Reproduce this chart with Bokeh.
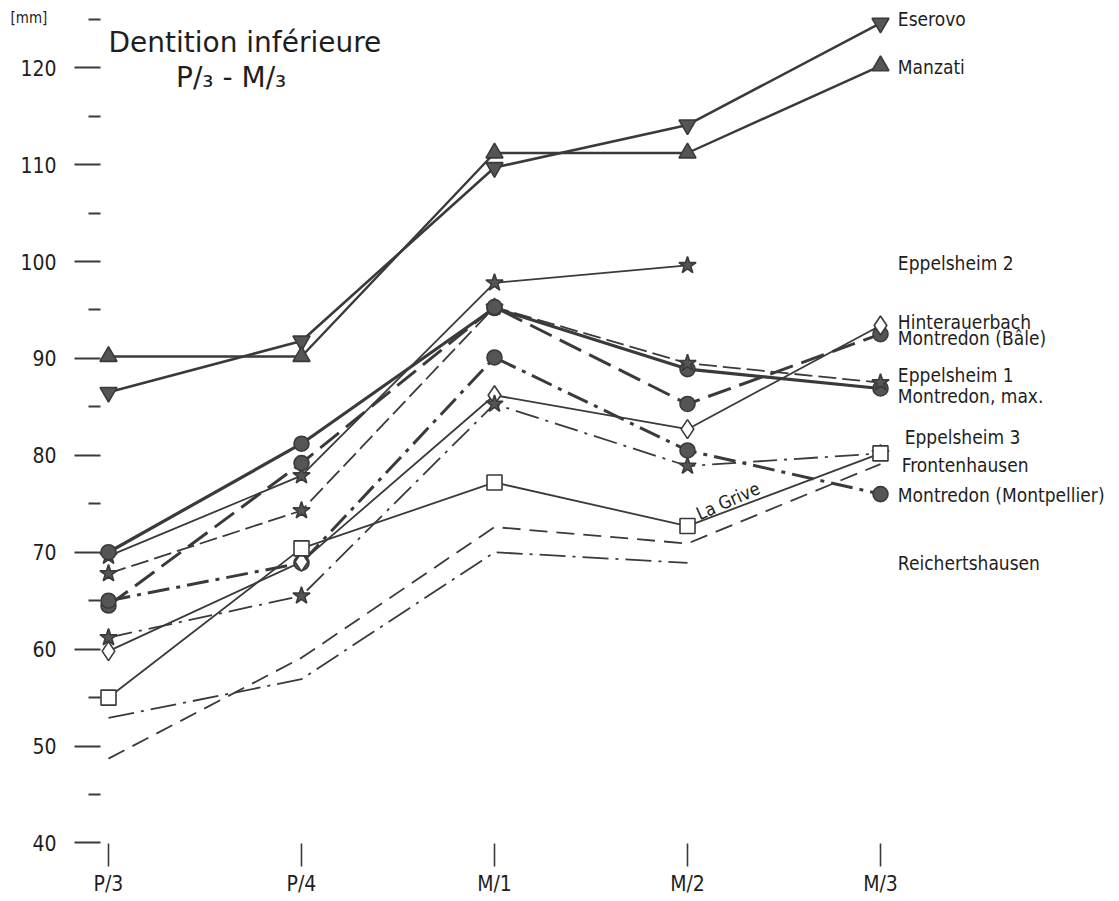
from bokeh.plotting import figure
from bokeh.models import Range1d, LinearAxis, FixedTicker, Label, ColumnDataSource
from bokeh.embed import file_html
from bokeh.resources import INLINE

NaN = float("nan")

# ---- data -------------------------------------------------------------
teeth = ["P/3", "P/4", "M/1", "M/2", "M/3"]
y_major = [40, 50, 60, 70, 80, 90, 100, 110, 120]
y_minor = [45, 55, 65, 75, 85, 95, 105, 115, 125]

eserovo = [86.5, 91.8, 109.7, 114.1, 124.6]
manzati = [90.2, 90.2, 111.2, 111.2, 120.2]
eppelsheim_2 = [69.6, 77.9, 97.8, 99.6, NaN]
montredon_max = [70.0, 81.2, 95.2, 88.9, 86.9]
eppelsheim_1 = [67.8, 74.3, 95.3, 89.5, 87.5]
montredon_bale = [64.5, 79.2, 95.3, 85.3, 92.5]
montredon_montpellier = [65.0, 68.9, 90.1, 80.5, 76.0]
hinterauerbach = [59.8, 69.0, 86.2, 82.7, 93.4]
eppelsheim_3 = [61.2, 65.5, 85.3, 78.9, 80.2]
la_grive = [55.0, 70.4, 77.2, 72.7, 80.2]
frontenhausen = [48.7, 59.1, 72.6, 70.9, 79.1]
reichertshausen = [52.9, 56.9, 70.0, 68.9, NaN]

series_names = ["Eserovo", "Manzati", "Eppelsheim 2", "Montredon, max.", "Eppelsheim 1",
                "Montredon (Bâle)", "Montredon (Montpellier)", "Hinterauerbach",
                "Eppelsheim 3", "La Grive", "Frontenhausen", "Reichertshausen"]
series_values = [eserovo, manzati, eppelsheim_2, montredon_max, eppelsheim_1,
                 montredon_bale, montredon_montpellier, hinterauerbach,
                 eppelsheim_3, la_grive, frontenhausen, reichertshausen]

# ---- styles -----------------------------------------------------------
INK = "#3a3a3a"
TXT = "#1e1e1e"
FILL = "#555555"
FONT = "DejaVu Sans Condensed"
styles = {
    "Eserovo": dict(marker="inverted_triangle", fill=FILL, lw=2.6, dash="solid", size=17),
    "Manzati": dict(marker="triangle", fill=FILL, lw=2.4, dash="solid", size=17),
    "Eppelsheim 2": dict(marker="star", fill=FILL, lw=1.8, dash="solid", size=18),
    "Montredon, max.": dict(marker="circle", fill=FILL, lw=3.2, dash="solid", size=15),
    "Eppelsheim 1": dict(marker="star", fill=FILL, lw=1.8, dash="18 6", size=18),
    "Montredon (Bâle)": dict(marker="circle", fill=FILL, lw=3.0, dash="24 9", size=15),
    "Montredon (Montpellier)": dict(marker="circle", fill=FILL, lw=3.0, dash="22 7 4 7", size=15),
    "Hinterauerbach": dict(marker="diamond", fill="white", lw=1.8, dash="solid", size=19),
    "Eppelsheim 3": dict(marker="star", fill=FILL, lw=1.8, dash="24 7 3 7", size=18),
    "La Grive": dict(marker="square", fill="white", lw=1.8, dash="solid", size=15),
    "Frontenhausen": dict(marker=None, fill=None, lw=1.8, dash="18 9", size=0),
    "Reichertshausen": dict(marker=None, fill=None, lw=1.8, dash="26 7 3 7", size=0),
}

# label placement (right column)
label_names = ["Eserovo", "Manzati", "Eppelsheim  2", "Hinterauerbach", "Montredon (Bâle)",
               "Eppelsheim  1", "Montredon, max.", "Eppelsheim 3", "Frontenhausen",
               "Montredon (Montpellier)", "Reichertshausen"]
label_y = [125.0, 120.1, 99.8, 93.8, 92.1, 88.3, 86.1, 81.9, 79.0, 75.9, 68.9]
label_x = [4.09, 4.09, 4.09, 4.09, 4.09, 4.09, 4.09, 4.125, 4.11, 4.09, 4.09]

# ---- figure -----------------------------------------------------------
PX = 193.0          # px per category step
PY = 9.69           # px per mm
W, H = 1112, 900
y_top = 125.7 + 12 / PY
y_bot = y_top - H / PY
p = figure(width=W, height=H,
           x_range=Range1d(-108 / PX, -108 / PX + W / PX), y_range=Range1d(y_bot, y_top),
           output_backend="svg", toolbar_location=None, x_axis_type=None, y_axis_type=None,
           min_border_left=0, min_border_right=0, min_border_top=0, min_border_bottom=0)
p.outline_line_color = None
p.background_fill_color = "white"

yaxis = LinearAxis(ticker=FixedTicker(ticks=y_major, minor_ticks=y_minor),
                   fixed_location=-8 / PX,
                   axis_line_color=None, major_tick_out=26, major_tick_in=0,
                   minor_tick_out=12, minor_tick_in=0,
                   major_tick_line_color=INK, minor_tick_line_color=INK,
                   major_tick_line_width=2, minor_tick_line_width=2,
                   major_label_text_font=FONT, major_label_text_font_size="21px",
                   major_label_text_color=TXT, major_label_standoff=18)
p.add_layout(yaxis, "left")

xaxis = LinearAxis(ticker=FixedTicker(ticks=list(range(len(teeth))), minor_ticks=[]),
                   fixed_location=39.9,
                   major_label_overrides={i: t for i, t in enumerate(teeth)},
                   axis_line_color=None, major_tick_out=23, major_tick_in=0,
                   major_tick_line_color=INK, major_tick_line_width=1.6,
                   major_label_text_font=FONT, major_label_text_font_size="21px",
                   major_label_text_color=TXT, major_label_standoff=5)
p.add_layout(xaxis, "below")

xs = list(range(len(teeth)))
for name, vals in zip(series_names, series_values):
    st = styles[name]
    src = ColumnDataSource(dict(x=xs, y=vals))
    p.line("x", "y", source=src, line_color=INK, line_width=st["lw"], line_dash=st["dash"])
for name, vals in zip(series_names, series_values):
    st = styles[name]
    if st["marker"] is None:
        continue
    src = ColumnDataSource(dict(x=xs, y=vals))
    p.scatter("x", "y", source=src, marker=st["marker"], size=st["size"],
              fill_color=st["fill"], line_color=INK, line_width=1.6)

# texts
p.add_layout(Label(x=0.0, y=122.6, text="Dentition inférieure", text_font="DejaVu Sans",
                   text_font_size="28px", text_color=TXT, text_baseline="middle"))
p.add_layout(Label(x=0.35, y=119.0, text="P/₃ - M/₃", text_font="DejaVu Sans",
                   text_font_size="28px", text_color=TXT, text_baseline="middle"))
p.add_layout(Label(x=-98 / PX, y=125.1, text="[mm]", text_font=FONT,
                   text_font_size="15px", text_color=TXT, text_baseline="middle"))
for t, lx, ly in zip(label_names, label_x, label_y):
    p.add_layout(Label(x=lx, y=ly, text=t, text_font=FONT, text_font_size="19px",
                       text_color=TXT, text_baseline="middle"))
p.add_layout(Label(x=3.05, y=73.9, text="La Grive", text_font=FONT, text_font_size="18px",
                   text_color=TXT, text_baseline="alphabetic", angle=24, angle_units="deg"))

open("out.html", "w").write(file_html(p, INLINE))
